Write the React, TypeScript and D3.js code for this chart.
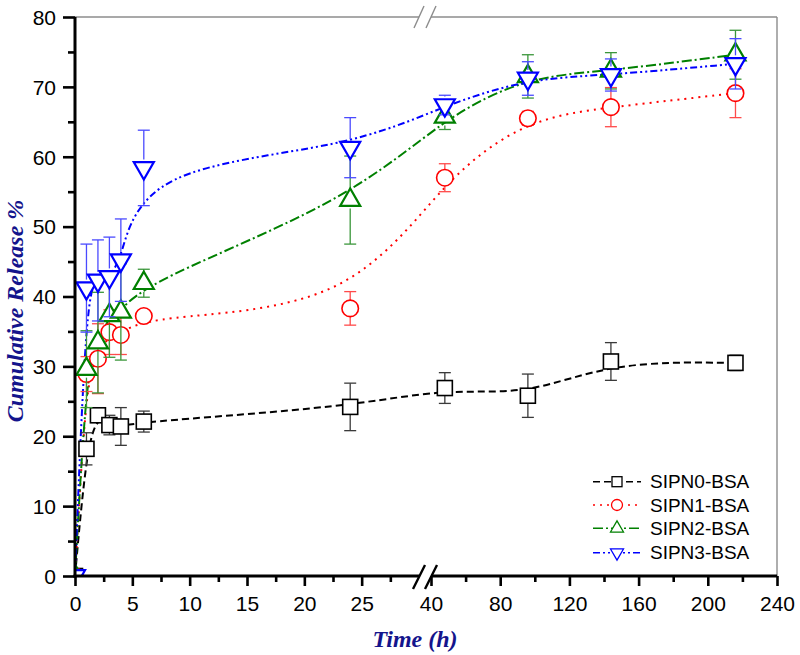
import React, { useEffect, useRef } from "react";
import * as d3 from "d3";

const times = [0, 1, 2, 3, 4, 6, 24, 48, 96, 144, 216];
const sipn0 = [0, 18.2, 23.0, 21.6, 21.4, 22.1, 24.2, 26.9, 25.8, 30.7, 30.5];
const sipn0Err = [0, 2.3, 1.0, 1.4, 2.7, 1.5, 3.4, 2.2, 3.1, 2.7, 1.1];
const sipn1 = [0, 28.9, 31.1, 34.9, 34.5, 37.2, 38.3, 57.0, 65.5, 67.1, 69.1];
const sipn1Err = [0, 2.5, 5.0, 3.2, 2.8, 0.8, 2.4, 2.0, 1.0, 2.8, 3.5];
const sipn2 = [0, 29.6, 33.4, 37.3, 37.8, 41.9, 53.8, 65.7, 71.5, 72.3, 74.6];
const sipn2Err = [0, 5.5, 7.2, 6.0, 6.9, 2.0, 6.3, 1.8, 3.1, 2.6, 3.5];
const sipn3 = [0, 41.2, 42.3, 42.8, 45.2, 58.4, 61.3, 67.4, 71.2, 71.7, 73.3];
const sipn3Err = [0, 6.3, 5.8, 5.7, 5.9, 5.4, 4.3, 1.4, 2.4, 2.3, 3.6];

const seriesNames = ["SIPN0-BSA", "SIPN1-BSA", "SIPN2-BSA", "SIPN3-BSA"];
const xTicks1 = [0, 5, 10, 15, 20, 25];
const xTicks2 = [40, 80, 120, 160, 200, 240];
const yTicks = [0, 10, 20, 30, 40, 50, 60, 70, 80];

const W = 800;
const H = 655;
const L = 75, R = 777, T = 17, B = 576;
const seg1End = 419, seg2Start = 431;

export default function App() {
  const ref = useRef<SVGSVGElement>(null);

  useEffect(() => {
    const svg = d3.select(ref.current);
    svg.selectAll("*").remove();

    const x1 = d3.scaleLinear().domain([0, 30]).range([L, seg1End]);
    const x2 = d3.scaleLinear().domain([40, 240]).range([seg2Start, R]);
    const x = (t: number) => (t <= 30 ? x1(t) : x2(t));
    const y = d3.scaleLinear().domain([0, 80]).range([B, T]);

    const series = [
      { name: seriesNames[0], vals: sipn0, errs: sipn0Err, color: "#000000", err: "#3a3a3a", dash: "7,4", sym: "square", sw: 1.6 },
      { name: seriesNames[1], vals: sipn1, errs: sipn1Err, color: "#ff0000", err: "#ff4a4a", dash: "2,5", sym: "circle", sw: 1.6 },
      { name: seriesNames[2], vals: sipn2, errs: sipn2Err, color: "#008000", err: "#3a963a", dash: "10,3,2,3", sym: "up", sw: 2.2 },
      { name: seriesNames[3], vals: sipn3, errs: sipn3Err, color: "#0000ff", err: "#4a4aff", dash: "7,3,2,3,2,3", sym: "down", sw: 2.2 },
    ];

    const defs = svg.append("defs");
    defs.append("clipPath").attr("id", "plotclip")
      .append("rect").attr("x", L).attr("y", T - 10).attr("width", R - L).attr("height", B - T + 10);

    // frame: top and right gray lines
    const frame = svg.append("g").attr("stroke", "#8c8c8c").attr("stroke-width", 1.4).attr("fill", "none");
    frame.append("line").attr("x1", L).attr("x2", seg1End).attr("y1", T).attr("y2", T);
    frame.append("line").attr("x1", seg2Start).attr("x2", R).attr("y1", T).attr("y2", T);
    frame.append("line").attr("x1", R).attr("x2", R).attr("y1", T).attr("y2", B);
    [seg1End, seg2Start].forEach((cx) => {
      frame.append("line").attr("x1", cx - 5).attr("y1", T + 11).attr("x2", cx + 5).attr("y2", T - 11);
    });

    const plot = svg.append("g").attr("clip-path", "url(#plotclip)");

    // lines
    const lineGen = d3.line<[number, number]>().x((d) => d[0]).y((d) => d[1]).curve(d3.curveBasis);
    series.forEach((s) => {
      const pts: [number, number][] = times.map((t, i) => [x(t), y(s.vals[i])]);
      plot.append("path").attr("d", lineGen(pts) as string).attr("fill", "none")
        .attr("stroke", s.color).attr("stroke-width", 2).attr("stroke-dasharray", s.dash);
    });

    const gapFor = (sym: string) => (sym === "square" ? 7.5 : sym === "circle" ? 8 : 8.5);

    const drawSym = (g: any, sym: string, cx: number, cy: number, size: number, color: string, sw: number) => {
      if (sym === "square") {
        g.append("rect").attr("x", cx - size / 2).attr("y", cy - size / 2).attr("width", size).attr("height", size)
          .attr("fill", "white").attr("stroke", color).attr("stroke-width", sw);
      } else if (sym === "circle") {
        g.append("circle").attr("cx", cx).attr("cy", cy).attr("r", size / 2)
          .attr("fill", "white").attr("stroke", color).attr("stroke-width", sw);
      } else {
        const w = size * 1.18;
        const h = size * 1.02;
        const dir = sym === "up" ? -1 : 1;
        const p = [
          [cx, cy + dir * (2 * h / 3)],
          [cx - w / 2, cy - dir * (h / 3)],
          [cx + w / 2, cy - dir * (h / 3)],
        ];
        g.append("path").attr("d", "M" + p.map((q) => q.join(",")).join("L") + "Z")
          .attr("fill", "white").attr("stroke", color).attr("stroke-width", sw).attr("stroke-linejoin", "miter");
      }
    };

    series.forEach((s) => {
      const g = plot.append("g");
      times.forEach((t, i) => {
        const cx = x(t);
        const cy = y(s.vals[i]);
        const e = s.errs[i];
        if (e > 0) {
          const gap = gapFor(s.sym);
          [1, -1].forEach((dir) => {
            const ye = y(s.vals[i] + dir * e);
            const dist = Math.abs(ye - cy);
            if (dist > gap) {
              g.append("line").attr("x1", cx).attr("x2", cx).attr("y1", cy - dir * gap).attr("y2", ye)
                .attr("stroke", s.err).attr("stroke-width", 1.3);
            }
            g.append("line").attr("x1", cx - 6).attr("x2", cx + 6).attr("y1", ye).attr("y2", ye)
              .attr("stroke", s.err).attr("stroke-width", 1.3);
          });
        }
      });
      times.forEach((t, i) => {
        drawSym(g, s.sym, x(t), y(s.vals[i]), s.sym === "circle" ? 16.5 : s.sym === "square" ? 15 : 17, s.color, s.sw);
      });
    });

    // axes
    const axisStyle = (g: any) => {
      g.select(".domain").remove();
      g.selectAll(".tick line").attr("stroke", "#000").attr("stroke-width", 2.6);
      g.selectAll(".tick text").attr("font-family", "Liberation Sans, Arial, sans-serif").attr("font-size", 21).attr("fill", "#000");
    };

    const yAxis = svg.append("g").attr("transform", `translate(${L},0)`)
      .call(d3.axisLeft(y).tickValues(yTicks).tickSize(12).tickPadding(7).tickFormat(d3.format("d")));
    axisStyle(yAxis);
    yAxis.selectAll(".tick text").attr("dy", "0.35em");
    const yMinor = svg.append("g").attr("transform", `translate(${L},0)`)
      .call(d3.axisLeft(y).tickValues(d3.range(5, 80, 10)).tickSize(7).tickFormat(() => ""));
    axisStyle(yMinor);

    const xAxis1 = svg.append("g").attr("transform", `translate(0,${B})`)
      .call(d3.axisBottom(x1).tickValues(xTicks1).tickSize(10).tickPadding(10).tickFormat(d3.format("d")));
    axisStyle(xAxis1);
    const xAxis2 = svg.append("g").attr("transform", `translate(0,${B})`)
      .call(d3.axisBottom(x2).tickValues(xTicks2).tickSize(10).tickPadding(10).tickFormat(d3.format("d")));
    axisStyle(xAxis2);
    const xMinor1 = svg.append("g").attr("transform", `translate(0,${B})`)
      .call(d3.axisBottom(x1).tickValues(d3.range(2.5, 30, 5)).tickSize(6).tickFormat(() => ""));
    axisStyle(xMinor1);
    const xMinor2 = svg.append("g").attr("transform", `translate(0,${B})`)
      .call(d3.axisBottom(x2).tickValues(d3.range(60, 240, 40)).tickSize(6).tickFormat(() => ""));
    axisStyle(xMinor2);

    // axis lines
    const ax = svg.append("g").attr("stroke", "#000").attr("stroke-width", 3).attr("fill", "none");
    ax.append("line").attr("x1", L).attr("x2", L).attr("y1", T).attr("y2", B + 1.5);
    ax.append("line").attr("x1", L - 1.5).attr("x2", seg1End).attr("y1", B).attr("y2", B);
    ax.append("line").attr("x1", seg2Start).attr("x2", R).attr("y1", B).attr("y2", B);
    [seg1End, seg2Start].forEach((cx) => {
      ax.append("line").attr("x1", cx - 6).attr("y1", B + 13).attr("x2", cx + 6).attr("y2", B - 11).attr("stroke-width", 2.4);
    });

    // titles
    svg.append("text").attr("x", 415).attr("y", 647).attr("text-anchor", "middle")
      .attr("font-family", "Liberation Serif, serif").attr("font-style", "italic").attr("font-weight", "bold")
      .attr("font-size", 24).attr("fill", "#14148c").text("Time (h)");
    svg.append("text").attr("transform", `translate(23,311) rotate(-90)`).attr("text-anchor", "middle")
      .attr("font-family", "Liberation Serif, serif").attr("font-style", "italic").attr("font-weight", "bold")
      .attr("font-size", 24).attr("fill", "#14148c").text("Cumulative Release %");

    // legend
    const legY = [481.7, 505, 528.3, 552.7];
    const lg = svg.append("g");
    series.forEach((s, i) => {
      const cy = legY[i];
      lg.append("line").attr("x1", 593).attr("x2", 641).attr("y1", cy).attr("y2", cy)
        .attr("stroke", s.color).attr("stroke-width", 1.6).attr("stroke-dasharray", s.dash);
      drawSym(lg, s.sym, 617, cy, s.sym === "circle" ? 11 : s.sym === "square" ? 10 : 11, s.color, 1.3);
      lg.append("text").attr("x", 650).attr("y", cy).attr("dy", "0.35em")
        .attr("font-family", "Liberation Sans, Arial, sans-serif").attr("font-size", 19).attr("fill", "#000").text(s.name);
    });
  }, []);

  return (
    <svg ref={ref} width={W} height={H} style={{ display: "block", position: "absolute", left: 0, top: 0, background: "white" }} />
  );
}
